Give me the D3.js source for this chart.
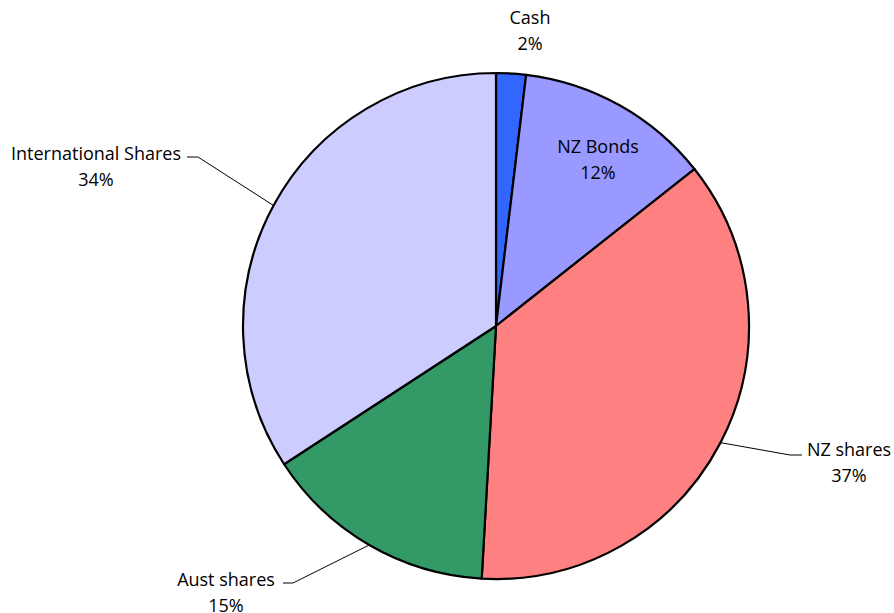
<!DOCTYPE html>
<html>
<head>
<meta charset="utf-8">
<script src="https://cdn.jsdelivr.net/npm/d3@7"></script>
<style>
  body { margin: 0; background: #fff; }
  text { font-family: "Open Sans", "Noto Sans", sans-serif; font-size: 18px; fill: #000; }
</style>
</head>
<body>
<div id="chart"></div>
<script>
// data
const categories = ["Cash", "NZ Bonds", "NZ shares", "Aust shares", "International Shares"];
const values = [1.9, 12.45, 36.55, 14.9, 34.2];
const colors = ["#3366FF", "#9999FF", "#FF8080", "#339966", "#CCCCFF"];

// label layout: inside = label sits on the slice, otherwise anchor point + elbow for the leader line
const labelPos = [
  {x: 530, y: 18},
  {x: 598, y: 147},
  {x: 849, y: 450, elbow: [790, 455], end: [802, 455]},
  {x: 226, y: 580, elbow: [293, 583], end: [283, 583]},
  {x: 96, y: 154, elbow: [198, 157], end: [187, 157]}
];

const width = 894, height = 613;
const cx = 496, cy = 326, radius = 253;

const svg = d3.select("#chart")
  .append("svg")
    .attr("width", width)
    .attr("height", height)
  .append("g")
    .attr("transform", `translate(${cx},${cy})`);

const total = d3.sum(values);
const pie = d3.pie().sort(null).value(d => d);
const arcs = pie(values);

const arc = d3.arc().innerRadius(0).outerRadius(radius);

// slices
svg.selectAll(".slice")
  .data(arcs)
  .join("path")
    .attr("class", "slice")
    .attr("d", arc)
    .style("fill", (d, i) => colors[i])
    .style("stroke", "#000")
    .style("stroke-width", 2.2)
    .style("stroke-linejoin", "round");

// leader lines
svg.selectAll(".leader")
  .data(arcs.filter((d, i) => labelPos[i].elbow))
  .join("polyline")
    .attr("class", "leader")
    .attr("points", function(d) {
      const i = d.index;
      const a = (d.startAngle + d.endAngle) / 2;
      const p = [radius * Math.sin(a), -radius * Math.cos(a)];
      const e = [labelPos[i].elbow[0] - cx, labelPos[i].elbow[1] - cy];
      const t = [labelPos[i].end[0] - cx, labelPos[i].end[1] - cy];
      return [p, e, t].map(q => q.join(",")).join(" ");
    })
    .style("fill", "none")
    .style("stroke", "#000")
    .style("stroke-width", 1);

// labels
const labels = svg.selectAll(".label")
  .data(arcs)
  .join("text")
    .attr("class", "label")
    .attr("text-anchor", "middle")
    .attr("transform", d => `translate(${labelPos[d.index].x - cx},${labelPos[d.index].y - cy})`);

labels.append("tspan")
  .attr("x", 0)
  .attr("dy", "0.35em")
  .text(d => categories[d.index]);

labels.append("tspan")
  .attr("x", 0)
  .attr("dy", 26)
  .text(d => Math.round(d.value / total * 100) + "%");
</script>
</body>
</html>
